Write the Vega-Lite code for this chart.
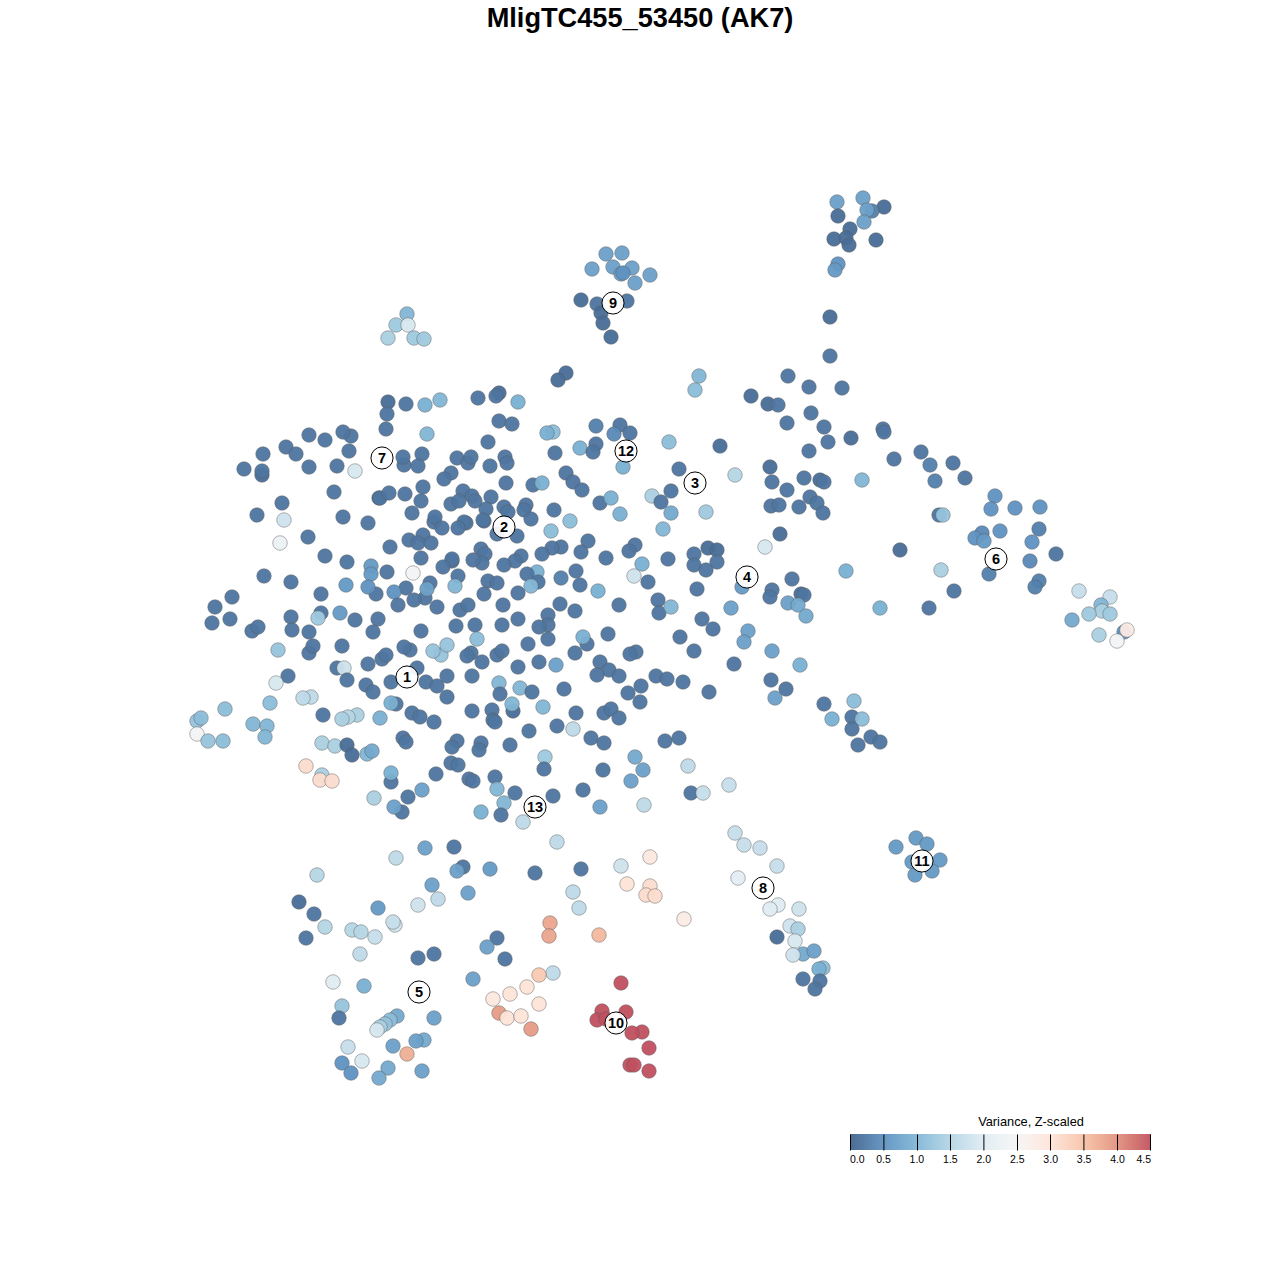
{"$schema":"https://vega.github.io/schema/vega-lite/v6.json","width":1280,"height":1240,"autosize":"none","padding":{"top":40,"left":0,"right":0,"bottom":0},"background":"white","view":{"stroke":null},"config":{"font":"Liberation Sans"},
"title":{"text":"MligTC455_53450 (AK7)","fontSize":27.2,"fontWeight":"bold","font":"Liberation Sans","color":"black","anchor":"middle","offset":7},
"datasets":{"pts":[
{"x":863,"y":198,"v":0.7},{"x":837,"y":202,"v":0.7},{"x":884,"y":207,"v":0.1},{"x":872,"y":211,"v":0.3},{"x":867,"y":210,"v":0.7},{"x":838,"y":216,"v":0.1},{"x":864,"y":222,"v":0.7},{"x":850,"y":229,"v":0.1},{"x":834,"y":239,"v":0.1},{"x":846,"y":238,"v":0.1},{"x":849,"y":245,"v":0.1},{"x":876,"y":240,"v":0.1},{"x":838,"y":264,"v":0.5},{"x":835,"y":270,"v":0.6},
{"x":830,"y":317,"v":0.1},{"x":830,"y":356,"v":0.2},
{"x":606,"y":254,"v":0.7},{"x":622,"y":253,"v":0.7},{"x":592,"y":269,"v":0.7},{"x":613,"y":267,"v":0.7},{"x":632,"y":268,"v":0.7},{"x":621,"y":274,"v":0.7},{"x":623,"y":273,"v":0.5},{"x":650,"y":275,"v":0.7},{"x":635,"y":283,"v":0.7},{"x":581,"y":300,"v":0.1},{"x":597,"y":304,"v":0.2},{"x":627,"y":301,"v":0.2},{"x":601,"y":313,"v":0.1},{"x":603,"y":323,"v":0.1},{"x":611,"y":337,"v":0.1},
{"x":407,"y":314,"v":1.0},{"x":396,"y":325,"v":1.3},{"x":408,"y":325,"v":1.9},{"x":388,"y":338,"v":1.4},{"x":414,"y":338,"v":1.3},{"x":424,"y":339,"v":1.3},
{"x":566,"y":373,"v":0.1},{"x":558,"y":380,"v":0.1},{"x":699,"y":376,"v":1.0},{"x":695,"y":390,"v":1.1},
{"x":788,"y":376,"v":0.2},{"x":809,"y":387,"v":0.2},{"x":842,"y":388,"v":0.2},{"x":751,"y":396,"v":0.1},{"x":768,"y":404,"v":0.1},{"x":778,"y":405,"v":0.2},{"x":811,"y":413,"v":0.2},{"x":787,"y":423,"v":0.2},{"x":824,"y":427,"v":0.2},{"x":828,"y":442,"v":0.2},{"x":851,"y":438,"v":0.1},{"x":809,"y":451,"v":0.2},{"x":883,"y":429,"v":0.2},{"x":884,"y":432,"v":0.2},{"x":894,"y":459,"v":0.2},{"x":921,"y":452,"v":0.2},{"x":930,"y":465,"v":0.3},{"x":953,"y":463,"v":0.2},{"x":965,"y":478,"v":0.2},{"x":935,"y":481,"v":0.3},
{"x":770,"y":467,"v":0.1},{"x":772,"y":482,"v":0.2},{"x":804,"y":478,"v":0.2},{"x":820,"y":480,"v":0.1},{"x":824,"y":482,"v":0.2},{"x":787,"y":490,"v":0.2},{"x":810,"y":497,"v":0.2},{"x":817,"y":503,"v":0.2},{"x":771,"y":506,"v":0.2},{"x":779,"y":505,"v":0.2},{"x":799,"y":507,"v":0.2},{"x":823,"y":513,"v":0.2},{"x":862,"y":480,"v":1.0},{"x":780,"y":534,"v":0.1},{"x":735,"y":475,"v":1.5},
{"x":995,"y":496,"v":0.5},{"x":1015,"y":508,"v":0.5},{"x":1040,"y":507,"v":0.5},{"x":991,"y":509,"v":0.5},{"x":939,"y":515,"v":0.2},{"x":943,"y":515,"v":1.2},{"x":1039,"y":529,"v":0.3},{"x":982,"y":533,"v":0.4},{"x":975,"y":538,"v":0.5},{"x":984,"y":541,"v":0.6},{"x":1000,"y":531,"v":0.5},{"x":1032,"y":542,"v":0.5},{"x":900,"y":550,"v":0.1},{"x":1056,"y":554,"v":0.2},{"x":1030,"y":561,"v":0.4},{"x":989,"y":574,"v":0.3},{"x":941,"y":570,"v":1.4},{"x":846,"y":571,"v":0.9},{"x":1039,"y":581,"v":0.3},{"x":1035,"y":587,"v":0.3},{"x":954,"y":591,"v":0.2},{"x":880,"y":608,"v":0.9},{"x":929,"y":608,"v":0.2},
{"x":1079,"y":591,"v":1.7},{"x":1110,"y":597,"v":1.7},{"x":1101,"y":605,"v":1.0},{"x":1102,"y":611,"v":1.4},{"x":1089,"y":614,"v":1.3},{"x":1110,"y":614,"v":1.3},{"x":1072,"y":620,"v":0.8},{"x":1099,"y":635,"v":1.4},{"x":1124,"y":632,"v":0.5},{"x":1127,"y":630,"v":2.8},{"x":1117,"y":641,"v":2.4},
{"x":765,"y":547,"v":1.9},{"x":708,"y":548,"v":0.1},{"x":717,"y":550,"v":0.1},{"x":694,"y":554,"v":0.2},{"x":694,"y":565,"v":0.2},{"x":717,"y":562,"v":0.2},{"x":706,"y":570,"v":0.2},{"x":742,"y":587,"v":0.6},{"x":772,"y":590,"v":0.2},{"x":792,"y":579,"v":0.2},{"x":770,"y":597,"v":0.2},{"x":801,"y":594,"v":0.1},{"x":804,"y":595,"v":0.2},{"x":788,"y":603,"v":0.7},{"x":798,"y":605,"v":0.8},{"x":806,"y":616,"v":0.8},{"x":731,"y":608,"v":0.7},{"x":702,"y":619,"v":0.2},{"x":713,"y":629,"v":0.2},{"x":748,"y":631,"v":0.7},{"x":744,"y":642,"v":0.7},{"x":680,"y":637,"v":0.2},{"x":694,"y":651,"v":0.2},{"x":772,"y":651,"v":0.7},{"x":734,"y":664,"v":0.2},{"x":800,"y":665,"v":0.9},{"x":771,"y":680,"v":0.2},{"x":786,"y":689,"v":0.2},{"x":775,"y":698,"v":0.7},{"x":709,"y":692,"v":0.2},
{"x":824,"y":704,"v":0.2},{"x":854,"y":701,"v":1.1},{"x":832,"y":719,"v":0.9},{"x":852,"y":717,"v":0.2},{"x":862,"y":719,"v":1.1},{"x":852,"y":729,"v":0.2},{"x":871,"y":737,"v":0.2},{"x":880,"y":742,"v":0.2},{"x":858,"y":745,"v":0.2},
{"x":499,"y":393,"v":0.1},{"x":496,"y":396,"v":0.2},{"x":518,"y":402,"v":0.9},{"x":478,"y":398,"v":0.2},{"x":499,"y":421,"v":0.2},{"x":512,"y":424,"v":0.2},{"x":596,"y":426,"v":0.3},{"x":620,"y":425,"v":0.2},{"x":614,"y":434,"v":0.4},{"x":630,"y":433,"v":0.2},{"x":553,"y":432,"v":1.1},{"x":547,"y":433,"v":0.9},{"x":669,"y":442,"v":1.1},{"x":720,"y":446,"v":0.1},{"x":488,"y":442,"v":0.2},{"x":580,"y":448,"v":0.9},{"x":596,"y":444,"v":0.2},{"x":593,"y":452,"v":0.2},{"x":555,"y":453,"v":0.2},{"x":505,"y":457,"v":0.2},{"x":507,"y":463,"v":0.2},{"x":490,"y":466,"v":0.2},{"x":623,"y":467,"v":0.9},{"x":679,"y":469,"v":0.2},{"x":566,"y":473,"v":0.2},{"x":573,"y":482,"v":0.2},{"x":582,"y":490,"v":0.2},{"x":533,"y":485,"v":0.2},{"x":542,"y":483,"v":0.9},{"x":506,"y":483,"v":0.2},
{"x":652,"y":496,"v":1.4},{"x":671,"y":491,"v":0.2},{"x":661,"y":502,"v":0.2},{"x":491,"y":497,"v":0.2},{"x":504,"y":507,"v":0.2},{"x":508,"y":512,"v":0.2},{"x":486,"y":509,"v":0.2},{"x":526,"y":505,"v":0.2},{"x":524,"y":510,"v":0.2},{"x":531,"y":519,"v":0.2},{"x":554,"y":510,"v":0.2},{"x":600,"y":503,"v":0.2},{"x":611,"y":498,"v":0.9},{"x":620,"y":514,"v":0.9},{"x":671,"y":513,"v":0.8},{"x":706,"y":512,"v":1.3},{"x":484,"y":521,"v":0.2},{"x":570,"y":521,"v":1.1},{"x":551,"y":531,"v":1.1},{"x":663,"y":529,"v":1.0},{"x":497,"y":534,"v":0.2},{"x":517,"y":536,"v":0.2},{"x":588,"y":541,"v":0.2},{"x":635,"y":545,"v":0.2},{"x":629,"y":551,"v":0.2},{"x":581,"y":552,"v":0.2},{"x":561,"y":547,"v":0.2},{"x":552,"y":548,"v":0.2},{"x":542,"y":554,"v":0.2},{"x":521,"y":556,"v":0.2},{"x":515,"y":561,"v":0.2},{"x":504,"y":565,"v":0.2},{"x":481,"y":549,"v":0.2},{"x":485,"y":554,"v":0.2},{"x":482,"y":563,"v":0.2},{"x":606,"y":558,"v":0.2},{"x":668,"y":559,"v":0.2},{"x":642,"y":564,"v":0.9},{"x":634,"y":576,"v":1.8},{"x":648,"y":582,"v":0.2},{"x":576,"y":571,"v":0.2},{"x":537,"y":572,"v":0.9},{"x":527,"y":574,"v":0.2},{"x":561,"y":578,"v":0.3},{"x":580,"y":585,"v":0.2},{"x":538,"y":582,"v":0.2},{"x":531,"y":586,"v":1.0},{"x":488,"y":581,"v":0.2},{"x":497,"y":583,"v":0.2},{"x":484,"y":594,"v":0.2},{"x":518,"y":593,"v":0.2},{"x":598,"y":591,"v":0.9},{"x":697,"y":589,"v":0.2},{"x":658,"y":600,"v":0.2},{"x":659,"y":613,"v":0.2},{"x":671,"y":607,"v":1.0},{"x":619,"y":605,"v":0.2},{"x":560,"y":604,"v":0.2},{"x":575,"y":611,"v":0.2},{"x":503,"y":605,"v":0.2},{"x":548,"y":615,"v":0.2},{"x":548,"y":625,"v":0.2},{"x":539,"y":627,"v":0.2},{"x":518,"y":619,"v":0.2},{"x":502,"y":625,"v":0.2},{"x":528,"y":644,"v":0.2},{"x":548,"y":639,"v":0.2},{"x":587,"y":644,"v":0.2},{"x":583,"y":637,"v":0.9},{"x":608,"y":634,"v":0.2},{"x":575,"y":653,"v":0.2},{"x":636,"y":652,"v":0.2},{"x":630,"y":654,"v":0.2},{"x":497,"y":655,"v":0.2},{"x":502,"y":651,"v":0.2},{"x":482,"y":662,"v":0.2},{"x":518,"y":667,"v":0.2},{"x":539,"y":662,"v":0.2},{"x":556,"y":665,"v":0.7},{"x":600,"y":662,"v":0.2},{"x":609,"y":670,"v":0.2},{"x":597,"y":675,"v":0.2},{"x":619,"y":676,"v":0.2},{"x":656,"y":676,"v":0.2},{"x":667,"y":679,"v":0.2},{"x":683,"y":682,"v":0.2},{"x":641,"y":686,"v":0.2},{"x":628,"y":693,"v":0.2},{"x":640,"y":702,"v":0.2},{"x":499,"y":683,"v":1.0},{"x":520,"y":688,"v":1.0},{"x":500,"y":694,"v":0.2},{"x":532,"y":692,"v":0.2},{"x":564,"y":689,"v":0.2},
{"x":388,"y":402,"v":0.1},{"x":406,"y":404,"v":0.2},{"x":425,"y":405,"v":0.9},{"x":440,"y":400,"v":1.0},{"x":387,"y":414,"v":0.2},{"x":386,"y":429,"v":0.2},{"x":427,"y":434,"v":1.0},{"x":309,"y":435,"v":0.2},{"x":325,"y":440,"v":0.2},{"x":351,"y":436,"v":0.2},{"x":343,"y":432,"v":0.2},{"x":286,"y":447,"v":0.2},{"x":296,"y":454,"v":0.2},{"x":263,"y":454,"v":0.2},{"x":349,"y":451,"v":0.2},{"x":244,"y":469,"v":0.2},{"x":262,"y":475,"v":0.1},{"x":262,"y":471,"v":0.2},{"x":309,"y":467,"v":0.2},{"x":337,"y":466,"v":0.2},{"x":355,"y":471,"v":1.9},{"x":404,"y":465,"v":0.2},{"x":403,"y":457,"v":0.2},{"x":422,"y":454,"v":0.2},{"x":418,"y":466,"v":0.2},{"x":457,"y":458,"v":0.2},{"x":468,"y":463,"v":0.2},{"x":471,"y":457,"v":0.2},{"x":451,"y":473,"v":0.2},{"x":444,"y":479,"v":0.2},{"x":334,"y":492,"v":0.2},{"x":379,"y":498,"v":0.1},{"x":380,"y":498,"v":0.2},{"x":389,"y":493,"v":0.2},{"x":405,"y":494,"v":0.2},{"x":423,"y":487,"v":0.2},{"x":421,"y":501,"v":0.2},{"x":463,"y":491,"v":0.2},{"x":472,"y":496,"v":0.2},{"x":475,"y":501,"v":0.2},{"x":451,"y":504,"v":0.2},{"x":459,"y":501,"v":0.2},{"x":412,"y":513,"v":0.2},{"x":282,"y":503,"v":0.2},{"x":257,"y":515,"v":0.2},{"x":284,"y":520,"v":1.8},{"x":343,"y":517,"v":0.2},{"x":368,"y":523,"v":0.2},{"x":434,"y":522,"v":0.2},{"x":435,"y":517,"v":0.2},{"x":442,"y":528,"v":0.2},{"x":466,"y":523,"v":0.2},{"x":464,"y":522,"v":0.2},{"x":458,"y":528,"v":0.2},{"x":483,"y":520,"v":0.2},{"x":280,"y":543,"v":2.3},{"x":308,"y":537,"v":0.2},{"x":325,"y":556,"v":0.2},{"x":347,"y":562,"v":0.2},{"x":390,"y":547,"v":0.2},{"x":409,"y":540,"v":0.2},{"x":423,"y":535,"v":0.2},{"x":418,"y":543,"v":0.2},{"x":431,"y":543,"v":0.2},{"x":421,"y":558,"v":0.2},{"x":452,"y":561,"v":0.2},{"x":452,"y":559,"v":0.2},{"x":443,"y":567,"v":0.2},{"x":473,"y":560,"v":0.2},
{"x":371,"y":566,"v":0.6},{"x":371,"y":574,"v":0.6},{"x":387,"y":572,"v":0.2},{"x":413,"y":573,"v":2.4},{"x":264,"y":576,"v":0.2},{"x":291,"y":582,"v":0.2},{"x":346,"y":585,"v":0.6},{"x":376,"y":594,"v":0.2},{"x":368,"y":587,"v":0.5},{"x":406,"y":588,"v":0.2},{"x":394,"y":592,"v":0.5},{"x":430,"y":583,"v":0.2},{"x":425,"y":598,"v":0.2},{"x":427,"y":589,"v":0.7},{"x":414,"y":600,"v":0.2},{"x":398,"y":605,"v":0.2},{"x":458,"y":576,"v":0.2},{"x":455,"y":586,"v":1.0},{"x":437,"y":607,"v":0.2},{"x":460,"y":610,"v":0.2},{"x":468,"y":605,"v":0.2},{"x":321,"y":594,"v":0.2},{"x":232,"y":597,"v":0.2},{"x":215,"y":607,"v":0.2},{"x":212,"y":623,"v":0.2},{"x":230,"y":619,"v":0.2},{"x":252,"y":631,"v":0.2},{"x":258,"y":627,"v":0.2},{"x":291,"y":617,"v":0.2},{"x":292,"y":630,"v":0.2},{"x":321,"y":613,"v":0.2},{"x":318,"y":618,"v":1.3},{"x":340,"y":613,"v":0.6},{"x":355,"y":620,"v":0.2},{"x":378,"y":619,"v":0.2},{"x":373,"y":632,"v":0.2},{"x":309,"y":653,"v":0.2},{"x":309,"y":632,"v":0.2},{"x":313,"y":646,"v":0.2},{"x":342,"y":646,"v":0.2},{"x":278,"y":650,"v":1.2},{"x":421,"y":631,"v":0.2},{"x":456,"y":626,"v":0.2},{"x":475,"y":625,"v":0.2},{"x":477,"y":639,"v":1.1},{"x":441,"y":655,"v":1.2},{"x":433,"y":651,"v":1.2},{"x":447,"y":645,"v":1.2},{"x":410,"y":650,"v":0.2},{"x":404,"y":647,"v":0.2},{"x":382,"y":659,"v":0.2},{"x":386,"y":655,"v":0.2},{"x":368,"y":664,"v":0.2},{"x":471,"y":653,"v":0.2},{"x":467,"y":656,"v":0.2},{"x":337,"y":668,"v":0.2},{"x":344,"y":668,"v":1.8},{"x":347,"y":680,"v":0.2},{"x":288,"y":676,"v":0.2},{"x":276,"y":683,"v":1.9},{"x":366,"y":685,"v":0.2},{"x":373,"y":692,"v":0.2},{"x":391,"y":682,"v":0.2},{"x":417,"y":668,"v":0.2},{"x":426,"y":682,"v":0.2},{"x":437,"y":686,"v":0.2},{"x":447,"y":676,"v":0.2},{"x":472,"y":676,"v":0.2},{"x":447,"y":697,"v":0.2},{"x":311,"y":697,"v":1.6},{"x":303,"y":698,"v":1.6},{"x":270,"y":703,"v":1.1},{"x":396,"y":704,"v":0.2},{"x":391,"y":703,"v":0.9},
{"x":412,"y":713,"v":0.2},{"x":420,"y":717,"v":0.2},{"x":434,"y":722,"v":0.2},{"x":472,"y":711,"v":0.2},{"x":492,"y":710,"v":0.2},{"x":493,"y":720,"v":0.2},{"x":495,"y":722,"v":0.2},{"x":513,"y":711,"v":0.1},{"x":512,"y":704,"v":1.0},{"x":543,"y":707,"v":1.0},{"x":557,"y":726,"v":0.2},{"x":576,"y":713,"v":0.2},{"x":604,"y":713,"v":0.2},{"x":611,"y":709,"v":0.2},{"x":619,"y":718,"v":0.2},{"x":573,"y":729,"v":1.6},{"x":323,"y":715,"v":0.2},{"x":357,"y":715,"v":1.4},{"x":348,"y":717,"v":1.5},{"x":342,"y":719,"v":1.4},{"x":380,"y":718,"v":0.9},
{"x":225,"y":709,"v":1.1},{"x":197,"y":721,"v":1.2},{"x":201,"y":718,"v":1.1},{"x":197,"y":734,"v":2.4},{"x":208,"y":741,"v":1.2},{"x":223,"y":741,"v":1.1},{"x":253,"y":724,"v":1.0},{"x":267,"y":726,"v":1.0},{"x":265,"y":737,"v":1.0},
{"x":322,"y":743,"v":1.4},{"x":335,"y":746,"v":1.4},{"x":347,"y":745,"v":0.1},{"x":352,"y":755,"v":0.1},{"x":367,"y":754,"v":1.0},{"x":372,"y":751,"v":0.8},{"x":403,"y":738,"v":0.2},{"x":406,"y":742,"v":0.2},{"x":457,"y":741,"v":0.2},{"x":452,"y":747,"v":0.2},{"x":481,"y":743,"v":0.2},{"x":479,"y":750,"v":0.2},{"x":510,"y":745,"v":0.2},{"x":529,"y":731,"v":0.2},{"x":591,"y":738,"v":0.2},{"x":604,"y":743,"v":0.2},{"x":665,"y":741,"v":0.2},{"x":679,"y":738,"v":0.2},{"x":635,"y":757,"v":0.8},{"x":545,"y":757,"v":1.3},{"x":544,"y":769,"v":0.2},{"x":451,"y":763,"v":0.2},{"x":458,"y":765,"v":0.2},{"x":436,"y":774,"v":0.2},{"x":643,"y":770,"v":0.7},{"x":603,"y":770,"v":0.2},{"x":631,"y":781,"v":0.7},{"x":688,"y":766,"v":1.6},{"x":729,"y":785,"v":1.7},{"x":691,"y":793,"v":0.2},{"x":703,"y":793,"v":1.7},{"x":306,"y":766,"v":3.1},{"x":322,"y":775,"v":1.4},{"x":320,"y":780,"v":3.1},{"x":332,"y":781,"v":3.1},{"x":391,"y":782,"v":0.2},{"x":391,"y":773,"v":0.9},
{"x":469,"y":779,"v":0.2},{"x":473,"y":781,"v":0.2},{"x":495,"y":777,"v":0.2},{"x":497,"y":789,"v":1.0},{"x":515,"y":793,"v":0.2},{"x":583,"y":790,"v":0.2},{"x":553,"y":796,"v":0.2},{"x":422,"y":790,"v":0.7},{"x":374,"y":798,"v":1.4},{"x":408,"y":797,"v":0.2},{"x":402,"y":812,"v":0.2},{"x":394,"y":807,"v":0.7},{"x":504,"y":803,"v":1.0},{"x":481,"y":812,"v":0.9},{"x":501,"y":815,"v":0.2},{"x":523,"y":822,"v":1.6},{"x":600,"y":807,"v":0.7},{"x":644,"y":805,"v":1.6},
{"x":735,"y":833,"v":1.7},{"x":744,"y":845,"v":1.7},{"x":760,"y":848,"v":1.7},{"x":777,"y":866,"v":1.7},{"x":738,"y":878,"v":2.1},{"x":799,"y":909,"v":1.8},{"x":778,"y":905,"v":2.0},{"x":770,"y":909,"v":2.0},{"x":790,"y":926,"v":1.8},{"x":798,"y":929,"v":1.4},{"x":777,"y":937,"v":0.1},{"x":795,"y":941,"v":1.9},{"x":803,"y":954,"v":0.8},{"x":793,"y":955,"v":1.8},{"x":814,"y":951,"v":0.7},{"x":823,"y":968,"v":1.1},{"x":819,"y":969,"v":0.9},{"x":803,"y":979,"v":0.2},{"x":820,"y":981,"v":0.2},{"x":815,"y":989,"v":0.2},
{"x":916,"y":838,"v":0.6},{"x":927,"y":844,"v":0.6},{"x":896,"y":847,"v":0.6},{"x":912,"y":862,"v":0.6},{"x":940,"y":860,"v":0.6},{"x":915,"y":875,"v":0.6},{"x":932,"y":871,"v":0.6},
{"x":557,"y":842,"v":1.6},{"x":425,"y":848,"v":0.7},{"x":454,"y":847,"v":0.2},{"x":396,"y":858,"v":1.6},{"x":463,"y":867,"v":0.2},{"x":457,"y":871,"v":0.7},{"x":490,"y":869,"v":0.6},{"x":535,"y":873,"v":0.2},{"x":581,"y":869,"v":0.2},{"x":621,"y":866,"v":1.8},{"x":650,"y":857,"v":2.9},{"x":627,"y":884,"v":3.0},{"x":650,"y":886,"v":3.1},{"x":646,"y":895,"v":3.1},{"x":655,"y":896,"v":3.1},{"x":684,"y":919,"v":2.8},{"x":317,"y":875,"v":1.5},{"x":432,"y":885,"v":0.7},{"x":573,"y":892,"v":1.6},{"x":468,"y":893,"v":0.7},{"x":438,"y":899,"v":1.6},{"x":418,"y":905,"v":1.8},{"x":579,"y":908,"v":1.6},{"x":299,"y":902,"v":0.1},{"x":378,"y":908,"v":0.6},{"x":314,"y":914,"v":0.2},{"x":395,"y":925,"v":1.8},{"x":393,"y":922,"v":1.7},{"x":325,"y":927,"v":1.5},{"x":352,"y":930,"v":1.5},{"x":361,"y":932,"v":1.5},{"x":375,"y":937,"v":1.7},{"x":306,"y":938,"v":0.2},{"x":550,"y":923,"v":3.8},{"x":549,"y":936,"v":3.8},{"x":599,"y":935,"v":3.6},{"x":497,"y":938,"v":0.2},{"x":487,"y":947,"v":0.7},{"x":360,"y":954,"v":1.6},{"x":434,"y":954,"v":0.2},{"x":418,"y":958,"v":0.2},{"x":505,"y":959,"v":0.2},
{"x":553,"y":973,"v":1.6},{"x":539,"y":975,"v":3.4},{"x":473,"y":979,"v":0.7},{"x":527,"y":987,"v":3.0},{"x":333,"y":982,"v":2.0},{"x":364,"y":986,"v":0.9},{"x":510,"y":994,"v":3.0},{"x":493,"y":999,"v":2.9},{"x":539,"y":1004,"v":3.0},{"x":342,"y":1006,"v":1.2},{"x":499,"y":1013,"v":3.9},{"x":507,"y":1018,"v":3.0},{"x":521,"y":1016,"v":3.0},{"x":531,"y":1029,"v":3.9},{"x":397,"y":1016,"v":0.8},{"x":390,"y":1020,"v":1.1},{"x":385,"y":1024,"v":1.2},{"x":380,"y":1027,"v":1.4},{"x":377,"y":1030,"v":1.9},{"x":339,"y":1018,"v":0.2},{"x":434,"y":1018,"v":0.7},
{"x":621,"y":983,"v":4.5},{"x":602,"y":1011,"v":4.5},{"x":626,"y":1012,"v":4.5},{"x":597,"y":1020,"v":4.5},{"x":606,"y":1019,"v":4.5},{"x":642,"y":1032,"v":4.5},{"x":632,"y":1033,"v":4.5},{"x":649,"y":1048,"v":4.5},{"x":630,"y":1065,"v":4.5},{"x":634,"y":1065,"v":4.5},{"x":649,"y":1071,"v":4.5},
{"x":393,"y":1046,"v":0.7},{"x":424,"y":1040,"v":0.8},{"x":416,"y":1041,"v":0.7},{"x":348,"y":1047,"v":1.7},{"x":407,"y":1054,"v":3.7},{"x":362,"y":1061,"v":1.9},{"x":342,"y":1063,"v":0.5},{"x":388,"y":1068,"v":0.8},{"x":351,"y":1073,"v":0.5},{"x":422,"y":1071,"v":0.7},{"x":379,"y":1078,"v":0.8}
],
"labels":[{"x":407,"y":677,"t":"1"},{"x":504,"y":527,"t":"2"},{"x":695,"y":483,"t":"3"},{"x":747,"y":577,"t":"4"},{"x":419,"y":992,"t":"5"},{"x":996,"y":559,"t":"6"},{"x":382,"y":458,"t":"7"},{"x":763,"y":888,"t":"8"},{"x":613,"y":303,"t":"9"},{"x":616,"y":1023,"t":"10"},{"x":922,"y":861,"t":"11"},{"x":626,"y":451,"t":"12"},{"x":535,"y":807,"t":"13"}],
"ltitle":[{"x":1031,"y":1122,"t":"Variance, Z-scaled"}]},
"encoding":{"x":{"field":"x","type":"quantitative","scale":{"domain":[0,1280],"nice":false,"zero":false},"axis":{"title":null,"labels":false,"domain":false,"grid":false,"ticks":true,"values":[850,883.4,917,950,983.4,1017,1050,1083.4,1117,1150],"tickSize":16,"tickWidth":1,"tickColor":"black","tickRound":false,"offset":-146,"zindex":1,"orient":"bottom"}},"y":{"field":"y","type":"quantitative","scale":{"domain":[40,1280],"reverse":true,"nice":false,"zero":false},"axis":null}},
"layer":[
{"data":{"name":"pts"},"mark":{"type":"circle","size":212,"opacity":0.95,"stroke":"#5a5a5a","strokeWidth":0.8,"strokeOpacity":0.6},
"encoding":{"color":{"field":"v","type":"quantitative","scale":{"domain":[0,0.5,1,1.5,2,2.5,3,3.5,4,4.5],"range":["#42648c","#5f93c2","#82b7d6","#b5d6e5","#e0ecf3","#f6f6f6","#fde4d8","#f7c3a8","#e2917f","#c0505f"],"clamp":true},
"legend":{"orient":"none","legendX":850,"legendY":1094,"direction":"horizontal","title":null,"gradientLength":301,"gradientThickness":16,"values":[0,0.5,1,1.5,2,2.5,3,3.5,4,4.5],"format":".1f","labelFontSize":10.5,"labelColor":"black","labelOverlap":false,"labelFont":"Liberation Sans","gradientStrokeWidth":0,"labelOffset":5,"encoding":{"labels":{"update":{"dx":{"signal":"datum.perc<=0?-7:datum.perc>=1?7:0"}}}}}}}},
{"data":{"name":"ltitle"},"mark":{"type":"text","fontSize":12.8,"color":"black","font":"Liberation Sans"},"encoding":{"text":{"field":"t"}}},
{"data":{"name":"labels"},"mark":{"type":"circle","size":490,"fill":"white","fillOpacity":0.92,"stroke":"black","strokeWidth":1,"opacity":1},"encoding":{}},
{"data":{"name":"labels"},"mark":{"type":"text","fontSize":14.5,"fontWeight":"bold","color":"black","font":"Liberation Sans","dy":1},"encoding":{"text":{"field":"t"}}}
]}
